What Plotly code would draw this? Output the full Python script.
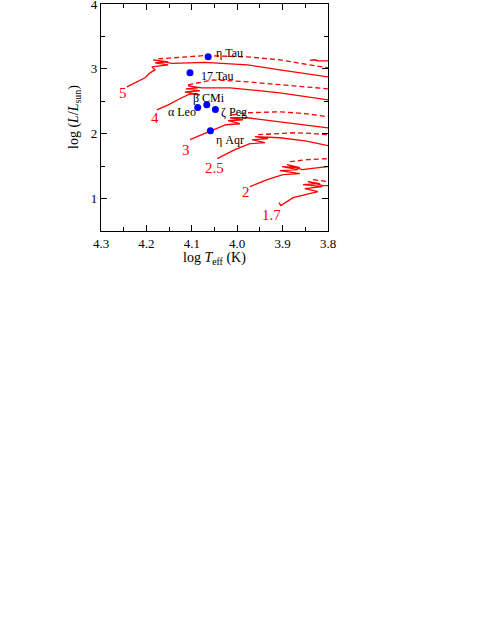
import plotly.graph_objects as go

# ---- data (log Teff, log L/Lsun) ----
t5_x = [4.243, 4.225, 4.203, 4.192, 4.181, 4.188, 4.152, 4.181, 4.152, 4.185, 4.144, 4.071, 3.978, 3.906, 3.800]
t5_y = [2.723, 2.785, 2.862, 2.938, 2.985, 3.031, 3.062, 3.092, 3.108, 3.138, 3.085, 3.100, 3.062, 2.985, 2.877]
t5d_x = [4.174, 4.148, 4.071, 3.978, 3.906, 3.800]
t5d_y = [3.154, 3.169, 3.205, 3.185, 3.138, 3.015]
t5s_x = [3.840, 3.830, 3.822, 3.800]
t5s_y = [3.130, 3.140, 3.125, 3.123]

t4_x = [4.177, 4.152, 4.122, 4.104, 4.082, 4.115, 4.082, 4.113, 4.086, 4.108, 4.078, 4.016, 3.906, 3.800]
t4_y = [2.369, 2.446, 2.554, 2.615, 2.600, 2.646, 2.662, 2.692, 2.708, 2.738, 2.708, 2.708, 2.631, 2.523]
t4d_x = [4.108, 4.082, 4.053, 3.978, 3.906, 3.800]
t4d_y = [2.754, 2.785, 2.831, 2.800, 2.754, 2.692]

t3_x = [4.104, 4.060, 4.025, 3.994, 4.020, 3.987, 4.016, 3.978, 3.906, 3.800]
t3_y = [1.908, 2.035, 2.138, 2.154, 2.200, 2.215, 2.246, 2.246, 2.185, 2.090]
t3d_x = [4.011, 3.978, 3.906, 3.850, 3.800]
t3d_y = [2.292, 2.323, 2.338, 2.310, 2.262]

t25_x = [4.044, 4.005, 3.972, 3.939, 3.967, 3.932, 3.961, 3.928, 3.906, 3.850, 3.800]
t25_y = [1.615, 1.754, 1.846, 1.862, 1.908, 1.923, 1.954, 1.938, 1.938, 1.890, 1.815]
t25d_x = [3.954, 3.906, 3.873, 3.840, 3.800]
t25d_y = [1.985, 2.000, 2.015, 2.005, 1.985]

t2_x = [3.972, 3.934, 3.899, 3.862, 3.906, 3.866, 3.901, 3.862, 3.890, 3.857, 3.830, 3.800]
t2_y = [1.185, 1.292, 1.369, 1.385, 1.431, 1.446, 1.492, 1.477, 1.523, 1.446, 1.470, 1.492]
t2d_x = [3.884, 3.846, 3.800]
t2d_y = [1.569, 1.600, 1.615]

t17_x = [3.908, 3.904, 3.877, 3.846, 3.822, 3.851, 3.813, 3.855, 3.818, 3.844, 3.811, 3.800]
t17_y = [0.938, 0.892, 1.015, 1.062, 1.108, 1.154, 1.185, 1.215, 1.231, 1.262, 1.200, 1.200]
t17d_x = [3.833, 3.818, 3.800]
t17d_y = [1.292, 1.277, 1.262]

star_names = ["η Tau", "17 Tau", "β CMi", "α Leo", "ζ Peg", "η Aqr"]
star_x = [4.064, 4.104, 4.067, 4.087, 4.048, 4.059]
star_y = [3.185, 2.940, 2.446, 2.405, 2.374, 2.046]
star_lab_x = [4.051, 4.084, 4.102, 4.156, 4.040, 4.051]
star_lab_y = [3.246, 2.892, 2.549, 2.334, 2.334, 1.908]

mass_labels = ["5", "4", "3", "2.5", "2", "1.7"]
mass_lab_x = [4.252, 4.181, 4.113, 4.049, 3.981, 3.924]
mass_lab_y = [2.630, 2.240, 1.754, 1.472, 1.097, 0.743]

x_ticks = [4.3, 4.2, 4.1, 4.0, 3.9, 3.8]
x_tick_text = ["4.3", "4.2", "4.1", "4.0", "3.9", "3.8"]
y_ticks = [1, 2, 3, 4]
x_title = "log <i>T</i><sub>eff</sub> (K)"
y_title = "log (<i>L</i>/<i>L</i><sub>sun</sub>)"

RED = "#ff0000"
SERIF = "Liberation Serif"
fig = go.Figure()

solid = [(t5_x, t5_y), (t5s_x, t5s_y), (t4_x, t4_y), (t3_x, t3_y), (t25_x, t25_y), (t2_x, t2_y), (t17_x, t17_y)]
dashed = [(t5d_x, t5d_y), (t4d_x, t4d_y), (t3d_x, t3d_y), (t25d_x, t25d_y), (t2d_x, t2d_y), (t17d_x, t17d_y)]
for xs, ys in solid:
    fig.add_trace(go.Scatter(x=xs, y=ys, mode="lines", line=dict(color=RED, width=1.3), showlegend=False, hoverinfo="skip"))
for xs, ys in dashed:
    fig.add_trace(go.Scatter(x=xs, y=ys, mode="lines", line=dict(color=RED, width=1.3, dash="5px,3px"), showlegend=False, hoverinfo="skip"))

fig.add_trace(go.Scatter(x=star_x, y=star_y, mode="markers",
                         marker=dict(color="#0000ff", size=7, line=dict(width=0)), showlegend=False))

for name, lx, ly in zip(star_names, star_lab_x, star_lab_y):
    fig.add_annotation(x=lx, y=ly, text=name, showarrow=False, xanchor="left", yanchor="middle",
                       font=dict(family=SERIF, size=12, color="black"))
for name, lx, ly in zip(mass_labels, mass_lab_x, mass_lab_y):
    fig.add_annotation(x=lx, y=ly, text=name, showarrow=False, xanchor="center", yanchor="middle",
                       font=dict(family=SERIF, size=15, color=RED))

# axis titles
fig.add_annotation(x=0.5, y=0, xref="paper", yref="paper", text=x_title, showarrow=False,
                   xanchor="center", yanchor="top", yshift=-17,
                   font=dict(family=SERIF, size=14, color="black"))
fig.add_annotation(x=0, y=0.5, xref="paper", yref="paper", text=y_title, showarrow=False,
                   textangle=-90, xanchor="right", yanchor="middle", xshift=-16,
                   font=dict(family=SERIF, size=14, color="black"))

axis_common = dict(showline=True, linecolor="black", linewidth=1.2, mirror="ticks",
                   ticks="inside", ticklen=6, tickwidth=1, tickcolor="black",
                   showgrid=False, zeroline=False, automargin=False, ticklabeloverflow="allow",
                   tickfont=dict(family=SERIF, size=13, color="black"))

fig.update_xaxes(range=[4.3, 3.8], tickvals=x_ticks, ticktext=x_tick_text,
                 minor=dict(dtick=0.05, tick0=3.8, ticks="inside", ticklen=3.5, tickcolor="black"),
                 **axis_common)
fig.update_yaxes(range=[0.5, 4], tickvals=y_ticks,
                 minor=dict(dtick=0.5, tick0=0.5, ticks="inside", ticklen=3.5, tickcolor="black"),
                 **axis_common)

fig.update_layout(width=491, height=635, margin=dict(l=101, r=163, t=4, b=404),
                  plot_bgcolor="white", paper_bgcolor="white", showlegend=False)

fig.write_html("out.html", config={"displayModeBar": False},
               post_script="document.body.style.margin='0px';")
